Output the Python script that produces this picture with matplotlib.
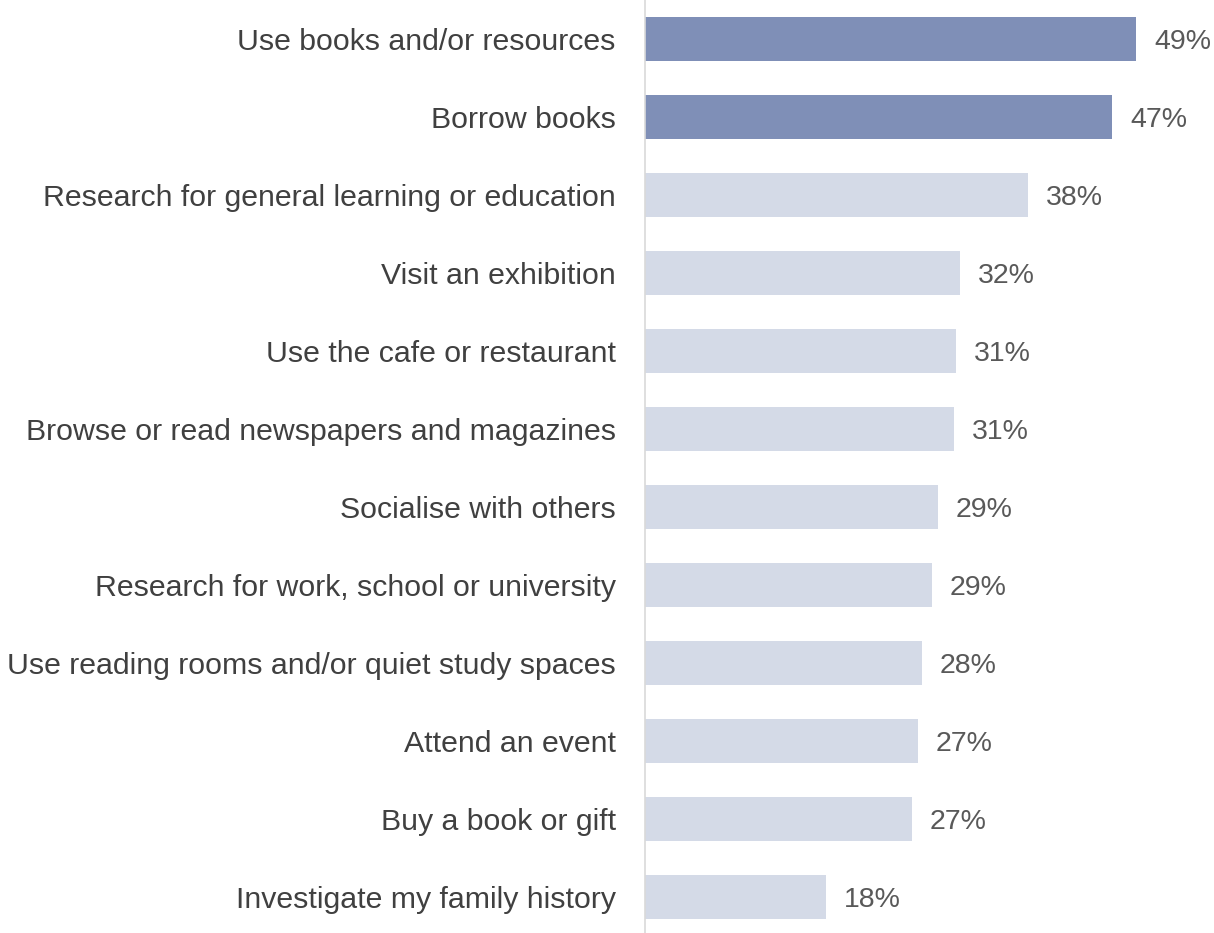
import matplotlib.pyplot as plt

categories = [
    'Use books and/or resources',
    'Borrow books',
    'Research for general learning or education',
    'Visit an exhibition',
    'Use the cafe or restaurant',
    'Browse or read newspapers and magazines',
    'Socialise with others',
    'Research for work, school or university',
    'Use reading rooms and/or quiet study spaces',
    'Attend an event',
    'Buy a book or gift',
    'Investigate my family history',
]
values = [49.1, 46.7, 38.3, 31.5, 31.1, 30.9, 29.3, 28.7, 27.7, 27.3, 26.7, 18.1]
value_labels = ['49%', '47%', '38%', '32%', '31%', '31%', '29%', '29%', '28%', '27%', '27%', '18%']
highlight = [True, True] + [False] * 10

dark = '#7f8fb7'
light = '#d4dae7'

plt.rcParams['font.family'] = ['Liberation Sans', 'DejaVu Sans']

fig = plt.figure(figsize=(12.14, 9.33), dpi=100)
ax = fig.add_axes([645 / 1214, 0, 1 - 645 / 1214, 1])

ypos = list(range(len(categories)))
colors = [dark if h else light for h in highlight]
ax.barh(ypos, values, height=0.565, color=colors)

# value labels, a bit to the right of each bar end
for y, v, lab in zip(ypos, values, value_labels):
    ax.annotate(lab, (v, y), xytext=(13, -2), textcoords='offset points',
                va='center', ha='left', fontsize=20.5, color='#595959')

ax.set_xlim(0, (1214 - 645) / 10.0)
ax.set_ylim(len(categories) - 1 + 0.46, -0.5)
ax.set_yticks(ypos)
ax.set_yticklabels(categories, fontsize=21.8, color='#404040')
ax.tick_params(axis='y', length=0, pad=21)
ax.set_xticks([])

for s in ['top', 'right', 'bottom']:
    ax.spines[s].set_visible(False)
ax.spines['left'].set_color('#d9d9d9')
ax.spines['left'].set_linewidth(1.2)

fig.savefig('out.png', dpi=100)
